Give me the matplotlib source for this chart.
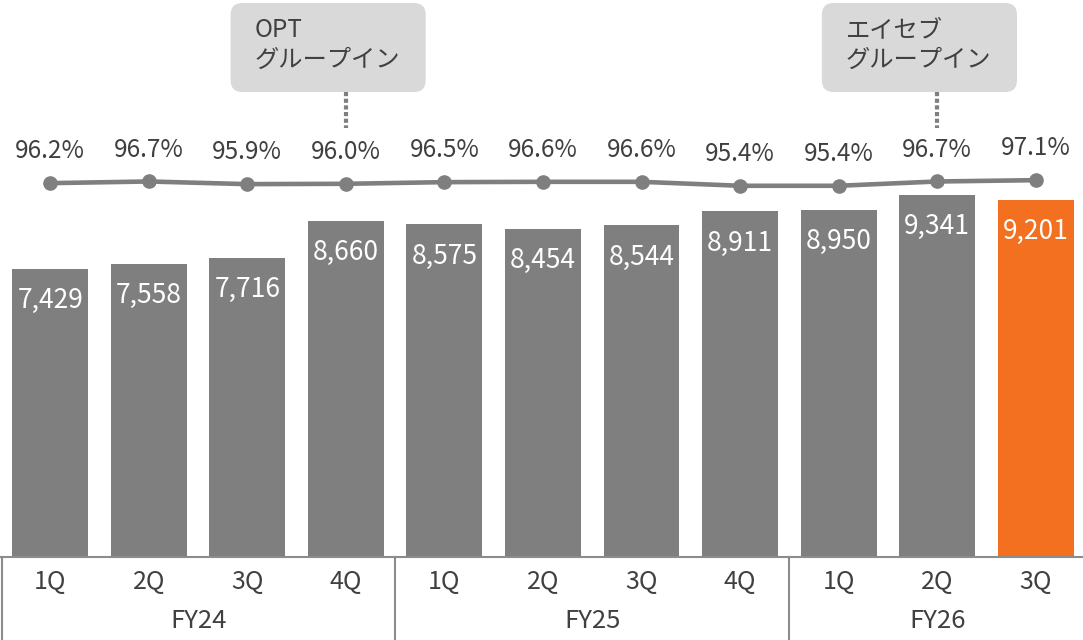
import matplotlib.pyplot as plt
from matplotlib.patches import FancyBboxPatch
from matplotlib.transforms import blended_transform_factory

plt.rcParams['font.family'] = ['Noto Sans CJK JP', 'DejaVu Sans']

quarters = ['1Q', '2Q', '3Q', '4Q', '1Q', '2Q', '3Q', '4Q', '1Q', '2Q', '3Q']
years = ['FY24', 'FY25', 'FY26']
year_spans = [(0, 3), (4, 7), (8, 10)]
counts = [7429, 7558, 7716, 8660, 8575, 8454, 8544, 8911, 8950, 9341, 9201]
rates = [96.2, 96.7, 95.9, 96.0, 96.5, 96.6, 96.6, 95.4, 95.4, 96.7, 97.1]
notes = ['OPT\nグループイン', 'エイセブ\nグループイン']
note_at = [3, 9]

GRAY = '#7f7f7f'
ORANGE = '#f37021'
TEXT = '#404040'

fig = plt.figure(figsize=(10.83, 6.40), dpi=100)
ax = fig.add_axes([0, 83 / 640, 1, 557 / 640])
ax2 = ax.twinx()

x = list(range(len(counts)))
colors = [GRAY] * (len(counts) - 1) + [ORANGE]
ax.bar(x, counts, width=0.77, color=colors, zorder=2)
for xi, v in zip(x, counts):
    ax.annotate(f'{v:,}', (xi, v), xytext=(0, -23), textcoords='offset points',
                ha='center', va='center', color='white', fontsize=19)

ax.set_xlim(-0.51, 10.48)
ax.set_ylim(0, 14355)

ax2.plot(x, rates, color=GRAY, lw=3.3, marker='o', ms=9.5, zorder=3)
ax2.set_ylim(-17.1, 151.7)
for xi, r in zip(x, rates):
    ax2.annotate(f'{r:.1f}%', (xi, r), xytext=(0, 23), textcoords='offset points',
                 ha='center', va='center', color=TEXT, fontsize=17.5)

for a in (ax, ax2):
    a.set_xticks([])
    a.set_yticks([])
    for s in a.spines.values():
        s.set_visible(False)
ax.spines['bottom'].set_visible(True)
ax.spines['bottom'].set_color('#8c8c8c')
ax.spines['bottom'].set_linewidth(1.5)

# category table under the axis
tr = blended_transform_factory(ax.transData, fig.transFigure)
for xi, q in zip(x, quarters):
    fig.text(xi, 1 - 582 / 640, q, transform=tr, ha='center', va='center',
             color=TEXT, fontsize=18)
for name, (a, b) in zip(years, year_spans):
    fig.text((a + b) / 2, 1 - 621 / 640, name, transform=tr, ha='center',
             va='center', color=TEXT, fontsize=18.5)
for bx in [-0.49, 3.5, 7.5]:
    fig.add_artist(plt.Line2D([bx, bx], [0, 83 / 640], transform=tr,
                              color='#8c8c8c', lw=1.5))

# callout boxes
px = 14355 / 557
for text, xi in zip(notes, note_at):
    left = xi - 1.17
    box = FancyBboxPatch((left, (557 - 92) * px), 1.98, 89 * px,
                         boxstyle='round,pad=0,rounding_size=0.12',
                         mutation_aspect=px * 98.6,
                         fc='#d9d9d9', ec='none', clip_on=False, zorder=4)
    ax.add_patch(box)
    ax.text(left + 0.24, (557 - 45) * px, text, ha='left', va='center',
            color=TEXT, fontsize=17.5, linespacing=1.2, zorder=5)
    ax.plot([xi, xi], [(557 - 92) * px, (557 - 128) * px], color=GRAY,
            lw=3, ls=(0, (1, 0.6)), clip_on=False, zorder=4)

fig.savefig('out.png', dpi=100)
